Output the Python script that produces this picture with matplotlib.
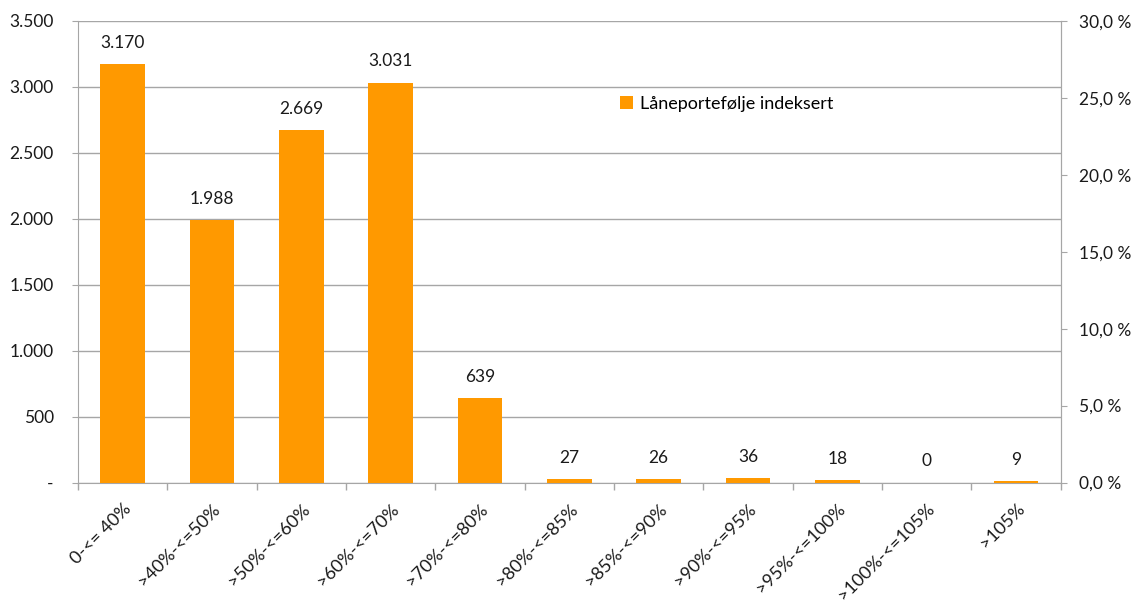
import numpy as np
import matplotlib.pyplot as plt
from matplotlib.ticker import FuncFormatter

plt.rcParams['font.family'] = ['Lato', 'DejaVu Sans']

categories = ['0-<= 40%', '>40%-<=50%', '>50%-<=60%', '>60%-<=70%', '>70%-<=80%',
              '>80%-<=85%', '>85%-<=90%', '>90%-<=95%', '>95%-<=100%',
              '>100%-<=105%', '>105%']
values = [3170, 1988, 2669, 3031, 639, 27, 26, 36, 18, 0, 9]
series_name = 'Låneportefølje indeksert'

orange = '#FF9900'
grid_col = '#A6A6A6'
txt = '#1a1a1a'

def thousands(v, pos=None):
    if v == 0:
        return '-'
    return f'{int(v):,}'.replace(',', '.')

fig = plt.figure(figsize=(11.43, 6.01), dpi=100)
ax = fig.add_axes([0.0682, 0.1970, 0.8598, 0.7685])

x = np.arange(len(categories))
ax.bar(x, values, width=0.5, color=orange, label=series_name, zorder=3)
for xi, v in zip(x, values):
    ax.text(xi, v + 100, thousands(v) if v else '0', ha='center', va='bottom',
            fontsize=12.5, color=txt)

ax.set_xlim(-0.5, len(categories) - 0.5)
ax.set_ylim(0, 3500)
ax.set_yticks(np.arange(0, 3501, 500))
ax.yaxis.set_major_formatter(FuncFormatter(thousands))
ax.yaxis.grid(True, color=grid_col, linewidth=1, zorder=0)

ax.set_xticks(x)
ax.set_xticklabels(categories, rotation=45, ha='right', rotation_mode='anchor',
                   fontsize=13, color=txt)
ax.set_xticks(np.arange(-0.5, len(categories)), minor=True)
ax.tick_params(axis='x', which='major', length=0, pad=13)
ax.tick_params(axis='x', which='minor', length=5, color=grid_col, width=1)
ax.tick_params(axis='y', length=4.5, color=grid_col, labelsize=12.5, labelcolor=txt, pad=13)

ax.spines['top'].set_visible(False)
for s in ['left', 'bottom', 'right']:
    ax.spines[s].set_color(grid_col)

ax2 = ax.twinx()
ax2.set_ylim(0, 30)
ax2.set_yticks(np.arange(0, 31, 5))
ax2.yaxis.set_major_formatter(FuncFormatter(lambda v, p: f'{v:.1f}'.replace('.', ',') + ' %'))
ax2.tick_params(axis='y', length=4.5, color=grid_col, labelsize=12.5, labelcolor=txt, pad=9)
for s in ['top', 'left', 'bottom']:
    ax2.spines[s].set_visible(False)
ax2.spines['right'].set_color(grid_col)

ax.legend(loc='center left', bbox_to_anchor=(0.535, 0.82), frameon=False,
          fontsize=13, handlelength=0.7, handleheight=0.7, handletextpad=0.4)

fig.savefig('out.png', dpi=100)
